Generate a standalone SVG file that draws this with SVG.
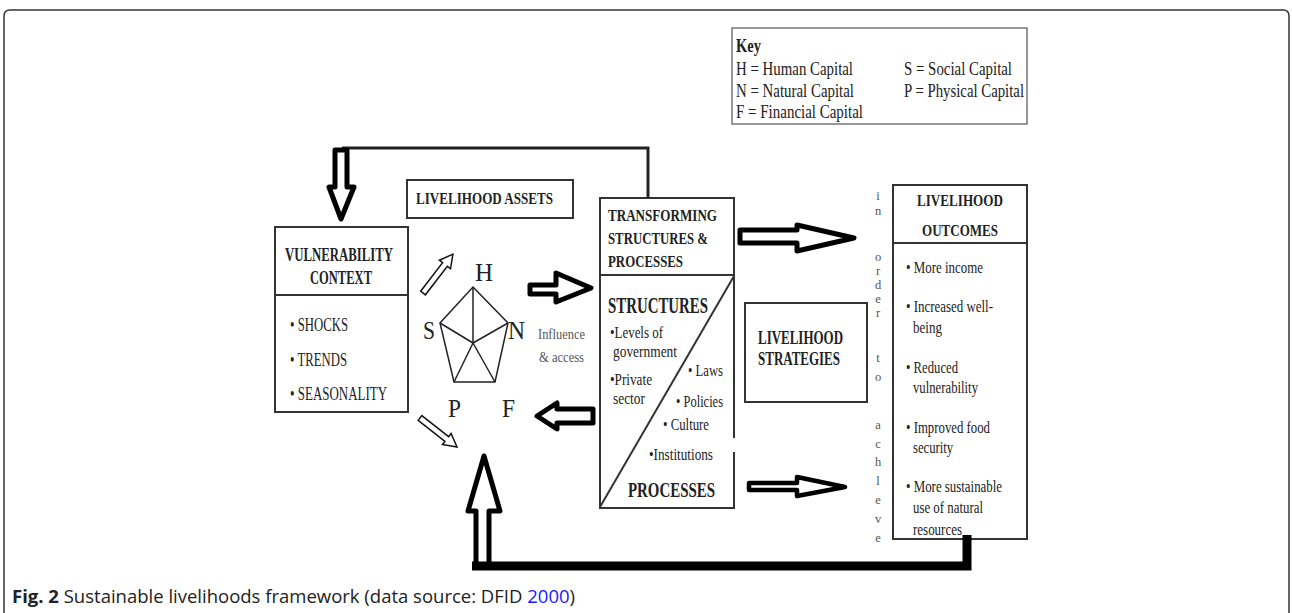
<svg xmlns="http://www.w3.org/2000/svg" width="1292" height="613" viewBox="0 0 1292 613">
<style>
.frame{fill:none;stroke:#333;stroke-width:1.5}
.box{fill:none;stroke:#333;stroke-width:2}
.ln{fill:none;stroke:#222;stroke-width:1.5}
.t{font-family:"Liberation Serif",serif;fill:#222}
.b{font-weight:bold}
.h17{font-size:17.5px}
.h15{font-size:15px}
.big{font-size:25px}
.vl{font-family:"Liberation Serif",serif;font-size:12.5px;fill:#555;text-anchor:middle}
.gray{fill:#555}
.harrow{fill:#fff;stroke:#000;stroke-width:5;stroke-linejoin:round}
.sarrow{fill:#fff;stroke:#111;stroke-width:1.5;stroke-linejoin:miter}
.cap{font-family:"Open Sans","Liberation Sans",sans-serif;font-size:18.5px;fill:#222}
</style>
<rect width="1292" height="613" fill="#fff"/>
<path class="frame" d="M4,613 V16 Q4,10 10,10 H1283 Q1289,10 1289,16 V613"/>

<g id="key">
<rect class="box" x="732" y="28" width="295" height="96" style="stroke:#777;stroke-width:1.5"/>
<text class="t b" x="736" y="52" font-size="18" textLength="25" lengthAdjust="spacingAndGlyphs">Key</text>
<text class="t" x="736" y="75" font-size="18" textLength="117" lengthAdjust="spacingAndGlyphs">H = Human Capital</text>
<text class="t" x="736" y="97" font-size="18" textLength="118" lengthAdjust="spacingAndGlyphs">N = Natural Capital</text>
<text class="t" x="736" y="118" font-size="18" textLength="127" lengthAdjust="spacingAndGlyphs">F = Financial Capital</text>
<text class="t" x="904" y="75" font-size="18" textLength="108" lengthAdjust="spacingAndGlyphs">S = Social Capital</text>
<text class="t" x="904" y="97" font-size="18" textLength="120" lengthAdjust="spacingAndGlyphs">P = Physical Capital</text>
</g>

<g id="vulnerability">
<rect class="box" x="275" y="227" width="133" height="185"/>
<line class="box" x1="275" y1="295" x2="408" y2="295"/>
<text class="t b" font-size="19" x="285" y="261" textLength="108" lengthAdjust="spacingAndGlyphs">VULNERABILITY</text>
<text class="t b" font-size="19" x="310" y="284" textLength="62" lengthAdjust="spacingAndGlyphs">CONTEXT</text>
<text class="t" font-size="18" x="290" y="331" textLength="58" lengthAdjust="spacingAndGlyphs">• SHOCKS</text>
<text class="t" font-size="18" x="290" y="366" textLength="57" lengthAdjust="spacingAndGlyphs">• TRENDS</text>
<text class="t" font-size="18" x="290" y="400" textLength="97" lengthAdjust="spacingAndGlyphs">• SEASONALITY</text>
</g>

<g id="assets">
<rect class="box" x="407" y="180" width="166" height="38"/>
<text class="t b h17" x="416" y="204" textLength="137" lengthAdjust="spacingAndGlyphs">LIVELIHOOD ASSETS</text>
</g>

<g id="pentagon">
<polygon class="ln" points="473,287 508,323 495,382 454,382 440,323"/>
<line class="ln" x1="473" y1="343" x2="473" y2="287"/>
<line class="ln" x1="473" y1="343" x2="508" y2="323"/>
<line class="ln" x1="473" y1="343" x2="495" y2="382"/>
<line class="ln" x1="473" y1="343" x2="454" y2="382"/>
<line class="ln" x1="473" y1="343" x2="440" y2="323"/>
<text class="t big" x="475" y="281">H</text>
<text class="t big" x="423" y="339" textLength="12" lengthAdjust="spacingAndGlyphs">S</text>
<text class="t big" x="508" y="339" textLength="17" lengthAdjust="spacingAndGlyphs">N</text>
<text class="t big" x="448" y="417" textLength="13" lengthAdjust="spacingAndGlyphs">P</text>
<text class="t big" x="502" y="417" textLength="13" lengthAdjust="spacingAndGlyphs">F</text>
<text class="t h15 gray" x="538" y="339" textLength="47" lengthAdjust="spacingAndGlyphs">Influence</text>
<text class="t h15 gray" x="539" y="362" textLength="45" lengthAdjust="spacingAndGlyphs">&amp; access</text>
</g>

<g id="transforming">
<path class="box" d="M734,452 V508 H600 V198 H734 V438"/>
<line class="box" x1="600" y1="275" x2="734" y2="275"/>
<line class="box" x1="600" y1="507" x2="734" y2="276"/>
<text class="t b h17" x="608" y="221" textLength="109" lengthAdjust="spacingAndGlyphs">TRANSFORMING</text>
<text class="t b h17" x="608" y="244" textLength="100" lengthAdjust="spacingAndGlyphs">STRUCTURES &amp;</text>
<text class="t b h17" x="608" y="267" textLength="75" lengthAdjust="spacingAndGlyphs">PROCESSES</text>
<text class="t b" font-size="24" x="608" y="313" textLength="100" lengthAdjust="spacingAndGlyphs">STRUCTURES</text>
<text class="t h17" x="610" y="338" textLength="53" lengthAdjust="spacingAndGlyphs">•Levels of</text>
<text class="t h17" x="613" y="357" textLength="64" lengthAdjust="spacingAndGlyphs">government</text>
<text class="t h17" x="610" y="385" textLength="42" lengthAdjust="spacingAndGlyphs">•Private</text>
<text class="t h17" x="613" y="404" textLength="32" lengthAdjust="spacingAndGlyphs">sector</text>
<text class="t h17" x="688" y="376" textLength="35" lengthAdjust="spacingAndGlyphs">• Laws</text>
<text class="t h17" x="676" y="407" textLength="47" lengthAdjust="spacingAndGlyphs">• Policies</text>
<text class="t h17" x="663" y="430" textLength="46" lengthAdjust="spacingAndGlyphs">• Culture</text>
<text class="t h17" x="649" y="460" textLength="64" lengthAdjust="spacingAndGlyphs">•Institutions</text>
<text class="t b" font-size="21" x="628" y="497" textLength="87" lengthAdjust="spacingAndGlyphs">PROCESSES</text>
</g>

<g id="strategies">
<rect class="box" x="745" y="303" width="122" height="99"/>
<text class="t b" font-size="18" x="758" y="344" textLength="85" lengthAdjust="spacingAndGlyphs">LIVELIHOOD</text>
<text class="t b" font-size="18" x="758" y="365" textLength="82" lengthAdjust="spacingAndGlyphs">STRATEGIES</text>
</g>

<g id="in-order-to-achieve">
<text class="vl" x="878" y="200">i</text>
<text class="vl" x="878" y="215">n</text>
<text class="vl" x="878" y="261">o</text>
<text class="vl" x="878" y="275">r</text>
<text class="vl" x="878" y="289">d</text>
<text class="vl" x="878" y="303">e</text>
<text class="vl" x="878" y="317">r</text>
<text class="vl" x="878" y="362">t</text>
<text class="vl" x="878" y="381">o</text>
<text class="vl" x="878" y="429">a</text>
<text class="vl" x="878" y="448">c</text>
<text class="vl" x="878" y="466">h</text>
<text class="vl" x="878" y="485">l</text>
<text class="vl" x="878" y="504">e</text>
<text class="vl" x="878" y="523">v</text>
<text class="vl" x="878" y="542">e</text>
</g>

<g id="outcomes">
<rect class="box" x="893" y="185" width="134" height="354"/>
<line class="box" x1="893" y1="243" x2="1027" y2="243"/>
<text class="t b h17" x="917" y="206" textLength="86" lengthAdjust="spacingAndGlyphs">LIVELIHOOD</text>
<text class="t b h17" x="922" y="236" textLength="76" lengthAdjust="spacingAndGlyphs">OUTCOMES</text>
<text class="t" font-size="17" x="906" y="273" textLength="77" lengthAdjust="spacingAndGlyphs">• More income</text>
<text class="t" font-size="17" x="906" y="312" textLength="87" lengthAdjust="spacingAndGlyphs">• Increased well-</text>
<text class="t" font-size="17" x="913" y="333" textLength="29" lengthAdjust="spacingAndGlyphs">being</text>
<text class="t" font-size="17" x="906" y="373" textLength="52" lengthAdjust="spacingAndGlyphs">• Reduced</text>
<text class="t" font-size="17" x="913" y="393" textLength="65" lengthAdjust="spacingAndGlyphs">vulnerability</text>
<text class="t" font-size="17" x="906" y="433" textLength="84" lengthAdjust="spacingAndGlyphs">• Improved food</text>
<text class="t" font-size="17" x="913" y="453" textLength="40" lengthAdjust="spacingAndGlyphs">security</text>
<text class="t" font-size="17" x="906" y="492" textLength="96" lengthAdjust="spacingAndGlyphs">• More sustainable</text>
<text class="t" font-size="17" x="913" y="513" textLength="70" lengthAdjust="spacingAndGlyphs">use of natural</text>
<text class="t" font-size="17" x="913" y="535" textLength="49" lengthAdjust="spacingAndGlyphs">resources</text>
</g>

<g id="connectors">
<polyline points="342,148 648,148 648,198" fill="none" stroke="#222" stroke-width="3"/>
<polygon class="harrow" points="335,150 347,150 347,187 354,187 341,219 329,187 335,187"/>
<polygon class="harrow" points="530,285 556,285 556,273 591,288 556,302 556,294 530,294"/>
<polygon class="harrow" points="537,416 557,403 557,409 593,409 593,423 557,423 557,429"/>
<polygon class="harrow" points="740,230 797,230 797,225 854,238 797,251 797,243 740,243"/>
<polygon class="harrow" style="stroke-width:4.5" points="749,483 797,483 797,477 845,487 797,496 797,490 749,490"/>
<polygon class="harrow" points="476,566 476,511 468,511 484,456 500,511 489,511 489,566"/>
<polyline points="472,566 967,566 967,535" fill="none" stroke="#000" stroke-width="9"/>
<g transform="translate(423,293) rotate(-52.4)"><polygon class="sarrow" points="0,-3 36,-3 36,-7 49,0 36,7 36,3 0,3"/></g>
<g transform="translate(420,418) rotate(38.1)"><polygon class="sarrow" points="0,-3 34,-3 34,-7 47,0 34,7 34,3 0,3"/></g>
</g>

<g id="caption">
<text class="cap" x="12" y="603"><tspan font-weight="bold">Fig. 2</tspan> Sustainable livelihoods framework (data source: DFID <tspan fill="#1a1aff">2000</tspan>)</text>
</g>
</svg>
